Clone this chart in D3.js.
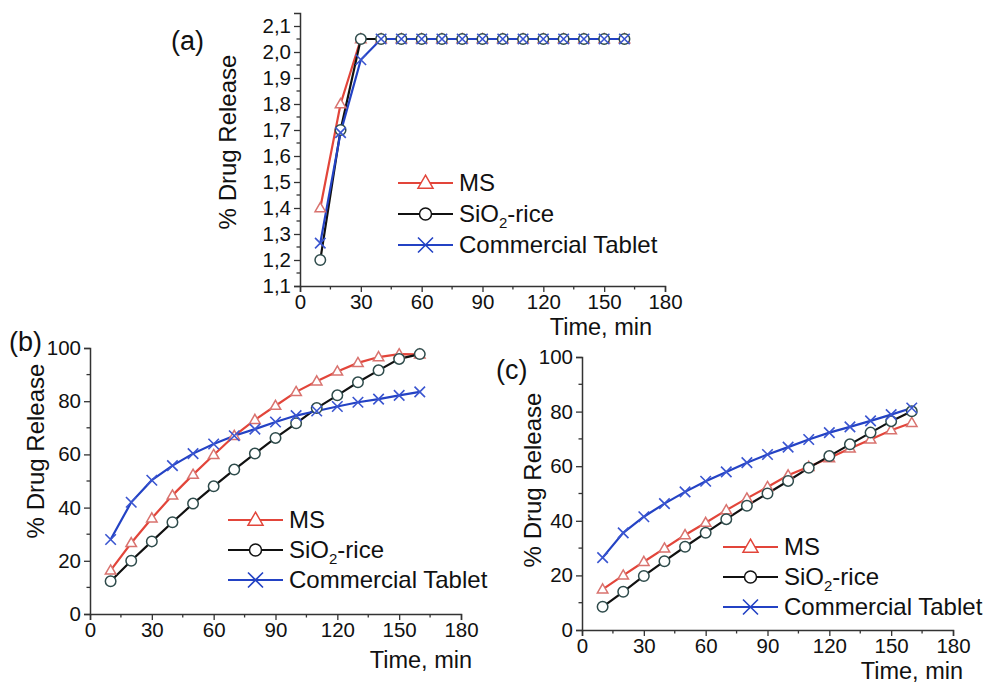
<!DOCTYPE html>
<html>
<head>
<meta charset="utf-8">
<script src="https://cdn.jsdelivr.net/npm/d3@7"></script>
<style>
  body { margin: 0; background: #fff; }
  svg { font-family: "Liberation Sans", Arial, sans-serif; }
</style>
</head>
<body>
<div id="chart"></div>
<script>
// time points (min)
var times = [10, 20, 30, 40, 50, 60, 70, 80, 90, 100, 110, 120, 130, 140, 150, 160];

// panel (a)
var msA = [1.4, 1.8, 2.05, 2.05, 2.05, 2.05, 2.05, 2.05, 2.05, 2.05, 2.05, 2.05, 2.05, 2.05, 2.05, 2.05];
var sioA = [1.2, 1.7, 2.05, 2.05, 2.05, 2.05, 2.05, 2.05, 2.05, 2.05, 2.05, 2.05, 2.05, 2.05, 2.05, 2.05];
var ctA = [1.265, 1.69, 1.97, 2.05, 2.05, 2.05, 2.05, 2.05, 2.05, 2.05, 2.05, 2.05, 2.05, 2.05, 2.05, 2.05];

// panel (b)
var msB = [16.4, 26.7, 36, 44.6, 52.4, 59.8, 67, 73, 78.3, 83.5, 87.5, 91.2, 94.4, 96.6, 97.7, 97.6];
var sioB = [12.3, 20, 27.3, 34.5, 41.5, 48, 54.3, 60.3, 66.2, 71.7, 77.4, 82.2, 87.1, 91.6, 95.9, 97.7];
var ctB = [28, 42, 50.3, 55.8, 60.3, 63.9, 67, 69.5, 72.2, 74.6, 76.3, 78, 79.6, 80.8, 82.2, 83.5];

// panel (c)
var msC = [14.9, 20, 25, 29.9, 34.8, 39.3, 43.9, 48.2, 52.4, 56.7, 59.8, 63, 66.5, 69.8, 73.2, 75.9];
var sioC = [8.5, 14, 19.8, 25.2, 30.5, 35.6, 40.6, 45.5, 50, 54.6, 59.4, 63.7, 68, 72.3, 76.5, 80.1];
var ctC = [26.5, 35.6, 41.5, 46.3, 50.6, 54.5, 57.9, 61.3, 64.3, 67, 69.8, 72.3, 74.4, 76.6, 78.9, 81.3];

var seriesNames = ["MS", "SiO2-rice", "Commercial Tablet"];
var xTicks = [0, 30, 60, 90, 120, 150, 180];
var yTicksA = [1.1, 1.2, 1.3, 1.4, 1.5, 1.6, 1.7, 1.8, 1.9, 2.0, 2.1];
var yTicksBC = [0, 20, 40, 60, 80, 100];

var W = 993, H = 684;
var svg = d3.select("#chart").append("svg")
    .attr("width", W)
    .attr("height", H);

var styles = [
    { line: "#e2453a", marker: "#d9736f", shape: "triangle" },
    { line: "#111111", marker: "#2e4b4b", shape: "circle" },
    { line: "#2342c4", marker: "#3a55d0", shape: "x" }
];

function drawMarker(g, shape, cx, cy, s, color) {
    if (shape === "triangle") {
        var h = s * Math.sqrt(3) / 2;
        g.append("path")
            .attr("d", "M" + cx + "," + (cy - h * 0.6) + "L" + (cx + s / 2) + "," + (cy + h * 0.4) +
                "L" + (cx - s / 2) + "," + (cy + h * 0.4) + "Z")
            .attr("fill", "#fff").attr("stroke", color).attr("stroke-width", 1.5);
    } else if (shape === "circle") {
        g.append("circle")
            .attr("cx", cx).attr("cy", cy).attr("r", s / 2)
            .attr("fill", "#fff").attr("stroke", color).attr("stroke-width", 1.5);
    } else {
        var r = s / 2;
        g.append("path")
            .attr("d", "M" + (cx - r) + "," + (cy - r) + "L" + (cx + r) + "," + (cy + r) +
                "M" + (cx - r) + "," + (cy + r) + "L" + (cx + r) + "," + (cy - r))
            .attr("fill", "none").attr("stroke", color).attr("stroke-width", 1.6);
    }
}

function drawPanel(p) {
    var x = d3.scaleLinear().domain([0, 180]).range([p.x0, p.x1]);
    var y = d3.scaleLinear().domain(p.yDomain).range([p.yBottom, p.yTop]);
    var g = svg.append("g");

    var xAxis = d3.axisBottom(x).tickValues(xTicks).tickSize(6).tickPadding(2);
    var gx = g.append("g")
        .attr("transform", "translate(0," + p.yBottom + ")")
        .call(xAxis);
    var yAxis = d3.axisLeft(y).tickValues(p.yTicks).tickSize(6).tickPadding(3)
        .tickFormat(p.fmt);
    var gy = g.append("g")
        .attr("transform", "translate(" + p.x0 + ",0)")
        .call(yAxis);

    // minor ticks
    var xMinor = d3.range(15, 180, 30);
    g.selectAll(".xm").data(xMinor).enter().append("line")
        .attr("x1", function(d) { return x(d); }).attr("x2", function(d) { return x(d); })
        .attr("y1", p.yBottom).attr("y2", p.yBottom + 3.5)
        .attr("stroke", "#333").attr("stroke-width", 1.3);
    g.selectAll(".ym").data(p.yMinor).enter().append("line")
        .attr("y1", function(d) { return y(d); }).attr("y2", function(d) { return y(d); })
        .attr("x1", p.x0).attr("x2", p.x0 - 3.5)
        .attr("stroke", "#333").attr("stroke-width", 1.3);

    [gx, gy].forEach(function(a) {
        a.select(".domain").attr("stroke", "#333").attr("stroke-width", 1.5);
        a.selectAll(".tick line").attr("stroke", "#333").attr("stroke-width", 1.3);
        a.selectAll(".tick text")
            .attr("fill", "#111")
            .style("font-size", "20.5px")
            .style("font-family", "'Liberation Sans', Arial, sans-serif");
    });

    // titles
    g.append("text")
        .attr("transform", "translate(" + p.yTitleX + "," + p.yTitleY + ") rotate(-90)")
        .attr("text-anchor", "middle")
        .attr("dy", "0.35em")
        .style("font-size", "24px")
        .attr("fill", "#111")
        .text("% Drug Release");
    g.append("text")
        .attr("x", p.xTitleX).attr("y", p.xTitleY)
        .attr("text-anchor", "end")
        .style("font-size", "23.5px")
        .attr("fill", "#111")
        .text("Time, min");
    g.append("text")
        .attr("x", p.labelX).attr("y", p.labelY)
        .style("font-size", "27px")
        .attr("fill", "#111")
        .text(p.label);

    // series
    var line = d3.line()
        .x(function(d) { return x(d[0]); })
        .y(function(d) { return y(d[1]); });

    p.series.forEach(function(vals, i) {
        var pts = times.map(function(t, k) { return [t, vals[k]]; });
        g.append("path")
            .datum(pts)
            .attr("fill", "none")
            .attr("stroke", styles[i].line)
            .attr("stroke-width", 2.2)
            .attr("d", line);
    });
    p.series.forEach(function(vals, i) {
        var mg = g.append("g");
        times.forEach(function(t, k) {
            drawMarker(mg, styles[i].shape, x(t), y(vals[k]), 10.5, styles[i].marker);
        });
    });

    // legend
    seriesNames.forEach(function(name, i) {
        var ly = p.legY + i * p.legStep;
        var lg = g.append("g");
        lg.append("line")
            .attr("x1", p.legX).attr("x2", p.legX + 55)
            .attr("y1", ly).attr("y2", ly)
            .attr("stroke", styles[i].line).attr("stroke-width", 2.2);
        drawMarker(lg, styles[i].shape, p.legX + 27.5, ly,
            styles[i].shape === "triangle" ? 15 : (styles[i].shape === "circle" ? 12 : 15),
            styles[i].shape === "circle" ? "#111" : styles[i].line);
        var t = lg.append("text")
            .attr("x", p.legX + 61).attr("y", ly + 8)
            .style("font-size", "24px")
            .attr("fill", "#111");
        if (name === "SiO2-rice") {
            t.append("tspan").text("SiO");
            t.append("tspan").attr("dy", 6).style("font-size", "15px").text("2");
            t.append("tspan").attr("dy", -6).text("-rice");
        } else {
            t.text(name);
        }
    });
}

var commaFmt = function(d) { return d3.format(".1f")(d).replace(".", ","); };

var panels = [
    { label: "(a)", labelX: 171, labelY: 50,
      x0: 300, x1: 665, yTop: 13, yBottom: 286, yDomain: [1.1, 2.15],
      yTicks: yTicksA, yMinor: d3.range(1.15, 2.15, 0.1), fmt: commaFmt,
      yTitleX: 228, yTitleY: 142, xTitleX: 652, xTitleY: 335,
      series: [msA, sioA, ctA], legX: 398, legY: 183, legStep: 31 },
    { label: "(b)", labelX: 9, labelY: 351,
      x0: 90, x1: 461, yTop: 348, yBottom: 614, yDomain: [0, 100],
      yTicks: yTicksBC, yMinor: d3.range(10, 100, 20), fmt: d3.format("d"),
      yTitleX: 36, yTitleY: 451, xTitleX: 472, xTitleY: 668,
      series: [msB, sioB, ctB], legX: 228, legY: 520, legStep: 30 },
    { label: "(c)", labelX: 496, labelY: 379,
      x0: 582, x1: 953, yTop: 357, yBottom: 630, yDomain: [0, 100],
      yTicks: yTicksBC, yMinor: d3.range(10, 100, 20), fmt: d3.format("d"),
      yTitleX: 533, yTitleY: 480, xTitleX: 963, xTitleY: 679,
      series: [msC, sioC, ctC], legX: 723, legY: 547, legStep: 30 }
];

panels.forEach(drawPanel);
</script>
</body>
</html>
